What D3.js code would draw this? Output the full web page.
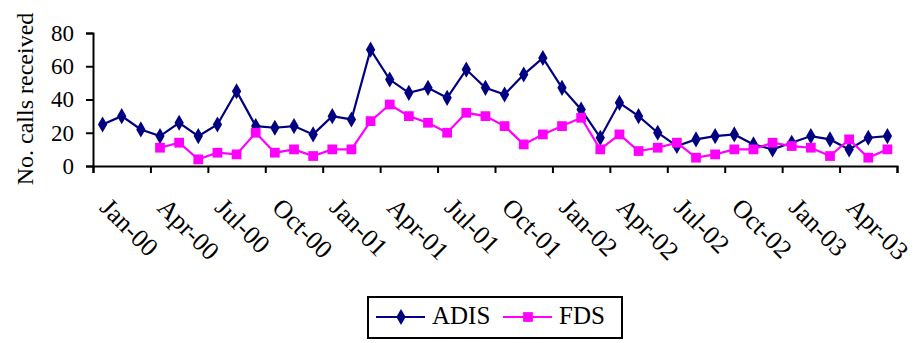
<!DOCTYPE html>
<html><head><meta charset="utf-8">
<script src="https://cdn.jsdelivr.net/npm/d3@7"></script>
<style>body{margin:0;background:#fff;} svg{display:block;}</style>
</head><body>
<script>
const months = ["Jan-00","Feb-00","Mar-00","Apr-00","May-00","Jun-00","Jul-00","Aug-00","Sep-00","Oct-00","Nov-00","Dec-00",
"Jan-01","Feb-01","Mar-01","Apr-01","May-01","Jun-01","Jul-01","Aug-01","Sep-01","Oct-01","Nov-01","Dec-01",
"Jan-02","Feb-02","Mar-02","Apr-02","May-02","Jun-02","Jul-02","Aug-02","Sep-02","Oct-02","Nov-02","Dec-02",
"Jan-03","Feb-03","Mar-03","Apr-03","May-03","Jun-03"];
const adis = [25,30,22,18,26,18,25,45,24,23,24,19,30,28,70,52,44,47,41,58,47,43,55,65,47,34,17,38,30,20,12,16,18,19,13,10,14,18,16,10,17,18];
const fds = [null,null,null,11,14,4,8,7,20,8,10,6,10,10,27,37,30,26,20,32,30,24,13,19,24,29,10,19,9,11,14,5,7,10,10,14,12,11,6,16,5,10];
const yTicks = [0,20,40,60,80];
const tickLabels = ["Jan-00","Apr-00","Jul-00","Oct-00","Jan-01","Apr-01","Jul-01","Oct-01","Jan-02","Apr-02","Jul-02","Oct-02","Jan-03","Apr-03"];
const seriesNames = ["ADIS","FDS"];
const colors = ["#000080","#FF00FF"];

const W=915,H=343;
const svg=d3.select("body").append("svg").attr("width",W).attr("height",H);
const font="'Liberation Serif', 'Times New Roman', serif";
const x=d3.scaleLinear().domain([0,months.length]).range([93,897]);
const y=d3.scaleLinear().domain([0,80]).range([166,33]);

// y axis
const ya=svg.append("g").attr("transform","translate(93,0)")
  .call(d3.axisLeft(y).tickValues(yTicks).tickSize(7).tickPadding(12));
ya.select(".domain").attr("stroke","#000").attr("stroke-width",2);
ya.selectAll(".tick line").attr("stroke","#000").attr("stroke-width",2);
ya.selectAll("text").attr("font-family",font).attr("font-size",23).attr("fill","#000");

// x axis
const xa=svg.append("g").attr("transform","translate(0,166)")
  .call(d3.axisBottom(x).tickValues(d3.range(0,months.length+1,3)).tickSize(7).tickFormat(""));
xa.select(".domain").attr("stroke","#000").attr("stroke-width",2);
xa.selectAll(".tick line").attr("stroke","#000").attr("stroke-width",2);

// x labels
tickLabels.forEach(lbl=>{
  const i=months.indexOf(lbl);
  const cx=x(i+0.5);
  svg.append("text").attr("font-family",font).attr("font-size",26).attr("fill","#000")
    .attr("transform",`translate(${cx-4},${209}) rotate(45)`).text(lbl);
});

// y title
svg.append("text").attr("font-family",font).attr("font-size",24).attr("fill","#000")
  .attr("text-anchor","middle").attr("transform","translate(33,99) rotate(-90)").text("No. calls received");

const line=d3.line().defined(d=>d!=null).x((d,i)=>x(i+0.5)).y(d=>y(d));
const diamond=d3.symbol().type(d3.symbolDiamond).size(75);
const square=d3.symbol().type(d3.symbolSquare).size(95);

[adis,fds].forEach((data,k)=>{
  svg.append("path").datum(data).attr("d",line).attr("fill","none").attr("stroke",colors[k]).attr("stroke-width",2.2);
  svg.selectAll(null).data(data.map((v,i)=>({v,i})).filter(d=>d.v!=null)).enter().append("path")
    .attr("d",k===0?diamond:square).attr("fill",colors[k])
    .attr("transform",d=>`translate(${x(d.i+0.5)},${y(d.v)})`);
});

// legend
const lg=svg.append("g");
lg.append("rect").attr("x",368).attr("y",297).attr("width",254).attr("height",41).attr("fill","none").attr("stroke","#000").attr("stroke-width",2);
const items=[{x0:376,tx:432},{x0:503,tx:559}];
items.forEach((it,k)=>{
  lg.append("line").attr("x1",it.x0).attr("x2",it.x0+49).attr("y1",317).attr("y2",317).attr("stroke",colors[k]).attr("stroke-width",2.2);
  lg.append("path").attr("d",k===0?diamond:square).attr("fill",colors[k]).attr("transform",`translate(${it.x0+25},317)`);
  lg.append("text").attr("x",it.tx).attr("y",324).attr("font-family",font).attr("font-size",25).attr("fill","#000").text(seriesNames[k]);
});
</script>
</body></html>
